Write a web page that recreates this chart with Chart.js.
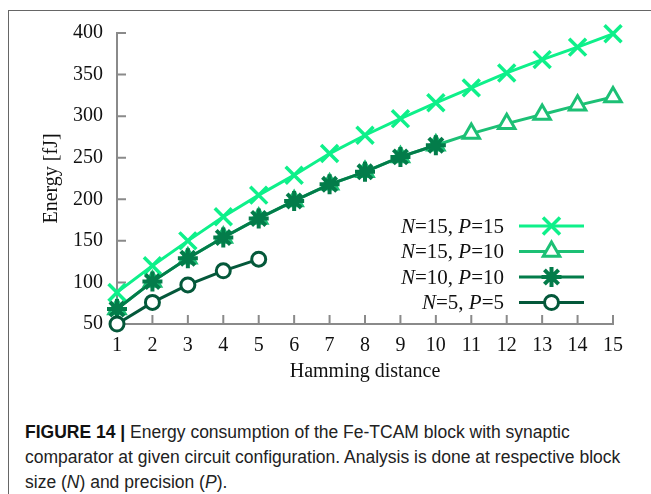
<!DOCTYPE html>
<html>
<head>
<meta charset="utf-8">
<script src="https://cdn.jsdelivr.net/npm/chart.js@4/dist/chart.umd.min.js"></script>
<style>
  html, body { margin: 0; padding: 0; background: #fff; }
  #page { position: relative; width: 651px; height: 494px; overflow: hidden; }
  #frame { position: absolute; left: 8px; top: 10px; width: 700px; height: 500px;
           border-top: 1px solid #666; border-left: 1px solid #666; }
  #box { position: absolute; left: 0; top: 0; width: 651px; height: 400px; }
  #caption { position: absolute; left: 25px; top: 420px; width: 620px;
             font-family: "Liberation Sans", Arial, sans-serif; font-size: 17.5px;
             line-height: 25px; color: #222; white-space: nowrap; }
  #caption b { color: #111; }
</style>
</head>
<body>
<div id="page">
  <div id="frame"></div>
  <div id="box"><canvas id="energy"></canvas></div>
  <div id="caption"><b>FIGURE 14 |</b> Energy consumption of the Fe-TCAM block with synaptic<br>comparator at given circuit configuration. Analysis is done at respective block<br>size (<i>N</i>) and precision (<i>P</i>).</div>
</div>
<script>
// Hamming distance values
const hamming = [1, 2, 3, 4, 5, 6, 7, 8, 9, 10, 11, 12, 13, 14, 15];

// energy in fJ
const n15p15 = [88, 120, 150, 179, 205, 229, 255, 277, 297, 316, 334, 352, 368, 383, 399];
const n15p10 = [68, 101, 129, 154, 177, 198, 218, 233, 251, 265, 279, 291, 302, 313, 323];
const n10p10 = [68, 101, 129, 154, 177, 198, 218, 233, 251, 265];
const n5p5 = [50, 76, 97, 114, 128];

const yTicks = [50, 100, 150, 200, 250, 300, 350, 400];

const serif = '"Liberation Serif", "Times New Roman", serif';

function pts(values) {
  return values.map((v, i) => ({ x: hamming[i], y: v }));
}

const series = [
  { name: ['N', '=15, ', 'P', '=15'], data: n15p15, color: '#0ef08a', style: 'crossRot', radius: 12, bw: 3.5, order: 2 },
  { name: ['N', '=15, ', 'P', '=10'], data: n15p10, color: '#1cc075', style: 'triangle', radius: 9.5, bw: 3, order: 3 },
  { name: ['N', '=10, ', 'P', '=10'], data: n10p10, color: '#037c4a', style: 'star', radius: 10, bw: 4, order: 1 },
  { name: ['N', '=5, ', 'P', '=5'], data: n5p5, color: '#04583a', style: 'circle', radius: 7, bw: 3, order: 0 }
];

// ticks pointing into the plot
const innerTicks = {
  id: 'innerTicks',
  beforeDatasetsDraw(chart) {
    const { ctx, scales: { x, y } } = chart;
    ctx.save();
    ctx.strokeStyle = '#8a8a8a';
    ctx.lineWidth = 2;
    ctx.beginPath();
    hamming.forEach(h => {
      const px = x.getPixelForValue(h);
      ctx.moveTo(px, y.bottom);
      ctx.lineTo(px, y.bottom - 9);
    });
    yTicks.forEach(t => {
      const py = y.getPixelForValue(t);
      ctx.moveTo(x.left, py);
      ctx.lineTo(x.left + 9, py);
    });
    ctx.stroke();
    ctx.restore();
  }
};

// legend: right aligned text, sample line with marker
const lineLegend = {
  id: 'lineLegend',
  afterDatasetsDraw(chart) {
    const { ctx } = chart;
    const textRight = 504, lineL = 519, lineR = 584, rowTop = 226, rowGap = 25.5;
    ctx.save();
    series.forEach((s, i) => {
      const yy = rowTop + i * rowGap;
      ctx.fillStyle = '#111';
      ctx.textBaseline = 'middle';
      const fonts = ['italic 21px ' + serif, '21px ' + serif, 'italic 21px ' + serif, '21px ' + serif];
      const widths = s.name.map((t, k) => { ctx.font = fonts[k]; return ctx.measureText(t).width; });
      let xx = textRight - widths.reduce((a, b) => a + b, 0);
      s.name.forEach((t, k) => {
        ctx.font = fonts[k];
        ctx.fillText(t, xx, yy + 1);
        xx += widths[k];
      });
      ctx.strokeStyle = s.color;
      ctx.lineWidth = 3;
      ctx.beginPath();
      ctx.moveTo(lineL, yy);
      ctx.lineTo(lineR, yy);
      ctx.stroke();
      ctx.fillStyle = '#fff';
      ctx.lineWidth = s.bw;
      Chart.helpers.drawPoint(ctx, { pointStyle: s.style, radius: s.radius, borderWidth: s.bw, rotation: 0 }, (lineL + lineR) / 2, yy);
    });
    ctx.restore();
  }
};

document.addEventListener('DOMContentLoaded', () => {
  const ctxE = document.getElementById('energy').getContext('2d');

  new Chart(ctxE, {
    type: 'line',
    data: {
      datasets: series.map(s => ({
        label: s.name.join(''),
        data: pts(s.data),
        borderColor: s.color,
        backgroundColor: '#fff',
        borderWidth: 3,
        pointStyle: s.style,
        pointRadius: s.radius,
        pointBorderWidth: s.bw,
        pointBorderColor: s.color,
        pointBackgroundColor: '#fff',
        tension: 0,
        clip: false,
        order: s.order
      }))
    },
    options: {
      responsive: true,
      maintainAspectRatio: false,
      animation: false,
      layout: { padding: { top: 33, right: 38, left: 0, bottom: 0 } },
      plugins: {
        legend: { display: false },
        tooltip: { enabled: false }
      },
      scales: {
        x: {
          type: 'linear',
          min: 1,
          max: 15,
          afterFit: scale => { scale.height = 76; },
          afterBuildTicks: scale => { scale.ticks = hamming.map(v => ({ value: v })); },
          grid: { display: false, drawTicks: false },
          border: { display: true, color: '#8a8a8a', width: 2 },
          ticks: { color: '#111', padding: 10, font: { family: serif, size: 20 } },
          title: { display: true, text: 'Hamming distance', color: '#111',
                   font: { family: serif, size: 20 }, padding: { top: 0, bottom: 16 } }
        },
        y: {
          min: 50,
          max: 400,
          afterFit: scale => { scale.width = 117; },
          afterBuildTicks: scale => { scale.ticks = yTicks.map(v => ({ value: v })); },
          grid: { display: false, drawTicks: false },
          border: { display: true, color: '#8a8a8a', width: 2 },
          ticks: { color: '#111', padding: 14, font: { family: serif, size: 20 } },
          title: { display: true, text: 'Energy [fJ]', color: '#111',
                   font: { family: serif, size: 20 }, padding: { top: 40, bottom: 0 } }
        }
      }
    },
    plugins: [innerTicks, lineLegend]
  });
});
</script>
</body>
</html>
